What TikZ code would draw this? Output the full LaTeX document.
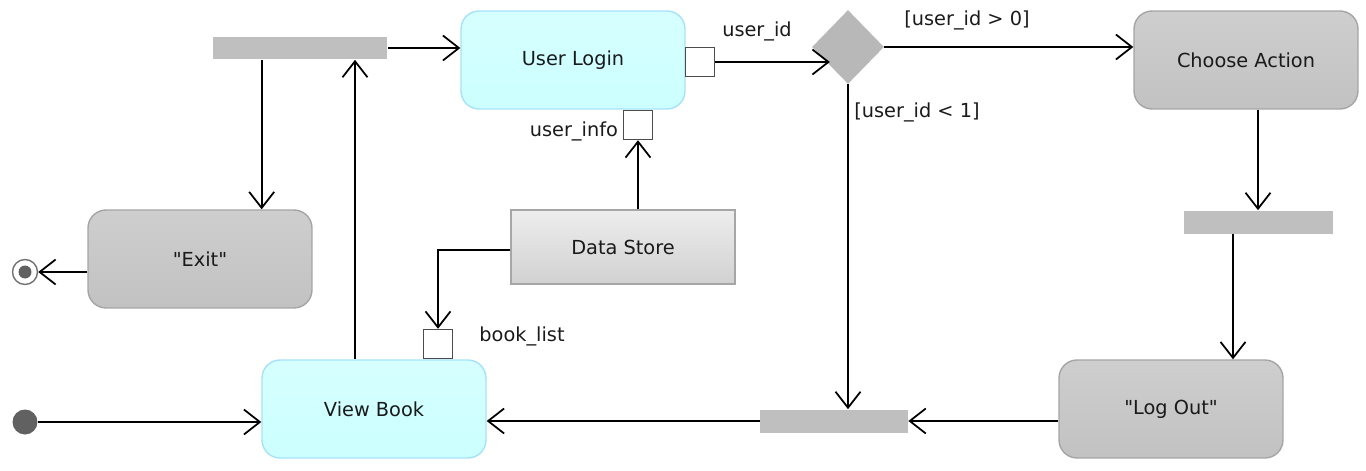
\documentclass[tikz,border=0pt]{standalone}
\usepackage{fontspec}
\setmainfont{DejaVu Sans}
\usetikzlibrary{arrows.meta,shapes.geometric}
\definecolor{txt}{HTML}{1A1A1A}
\begin{document}
\begin{tikzpicture}[x=0.02cm,y=-0.02cm,font=\fontsize{11}{13}\selectfont,text=txt,
  flow/.style={line width=1pt,-{Straight Barb[length=0.32cm,width=0.5cm,line width=1pt]}},
  action/.style={rounded corners=0.36cm,minimum width=4.48cm,minimum height=1.96cm,
    top color=#1!80,bottom color=#1,draw=#1!85!black,line width=0.8pt},
  bar/.style={fill=black!25,minimum width=#1,minimum height=0.46cm,inner sep=0},
  pin/.style={draw=black!70,fill=white,minimum size=0.58cm,inner sep=0,line width=0.8pt},
  lbl/.style={inner sep=1pt}]
\useasboundingbox (0,0) rectangle (1366,470);
\colorlet{actcyan}{cyan!20}
\colorlet{actgray}{black!24}
\node[action=actcyan,draw=cyan!35] (login) at (573,60) {User Login};
\node[action=actgray] (choose) at (1246,60) {Choose Action};
\node[action=actgray] (exit) at (200,259) {\textquotedbl Exit\textquotedbl};
\node[action=actgray] (logout) at (1171,409) {\textquotedbl Log Out\textquotedbl};
\node[action=actcyan,draw=cyan!35] (view) at (374,409) {View Book};
\node[minimum width=4.48cm,minimum height=1.48cm,top color=black!7,bottom color=black!18,draw=black!35,line width=0.8pt] (store) at (623,247) {Data Store};
\node[diamond,aspect=1,fill=black!28,minimum width=1.44cm,minimum height=1.48cm,inner sep=0] (dec) at (848,47) {};
\node[bar=3.5cm] (fork) at (300,48) {};
\node[bar=2.98cm] (join) at (1258,222) {};
\node[bar=2.96cm] (merge) at (834,421) {};
\node[pin] (uid) at (700,62) {};
\node[pin] (uinfo) at (638,125) {};
\node[pin] (blist) at (438,344) {};
\node[circle,fill=black!62,minimum size=0.5cm,inner sep=0] (start) at (25,422) {};
\node[circle,draw=black!55,fill=white,line width=0.8pt,minimum size=0.5cm,inner sep=0] (stop) at (25,272) {};
\node[circle,fill=black!62,minimum size=0.26cm,inner sep=0] at (stop) {};
\node[lbl] at (757,31) {user\_id};
\node[lbl,anchor=east] at (620,131) {user\_info};
\node[lbl] at (522,336) {book\_list};
\node[lbl] at (967,20) {[user\_id > 0]};
\node[lbl] at (917,112) {[user\_id < 1]};
\draw[flow] (start) -- (view.west |- start);
\draw[flow] (view.north -| 355,0) -- (fork.south -| 355,0);
\draw[flow] (fork.east) -- (login.west |- fork.east);
\draw[flow] (fork.south -| exit.north east) ++(-51,0) coordinate (f1) -- (f1 |- exit.north);
\draw[flow] (exit.west |- stop) -- (stop);
\draw[flow] (uid.east) -- (uid.east -| dec.south west);
\draw[flow] (dec.east) -- (choose.west |- dec.east);
\draw[flow] (dec.south) -- (dec.south |- merge.north);
\draw[flow] (choose.south -| join.north) -- (join.north);
\draw[flow] (join.south -| 1233,0) -- (logout.north -| 1233,0);
\draw[flow] (logout.west |- merge) -- (merge.east);
\draw[flow] (merge.west) -- (view.east |- merge.west);
\draw[flow] (store.north -| uinfo) -- (uinfo.south);
\draw[flow] (store.west |- 0,250) -| (blist.north);
\end{tikzpicture}
\end{document}
